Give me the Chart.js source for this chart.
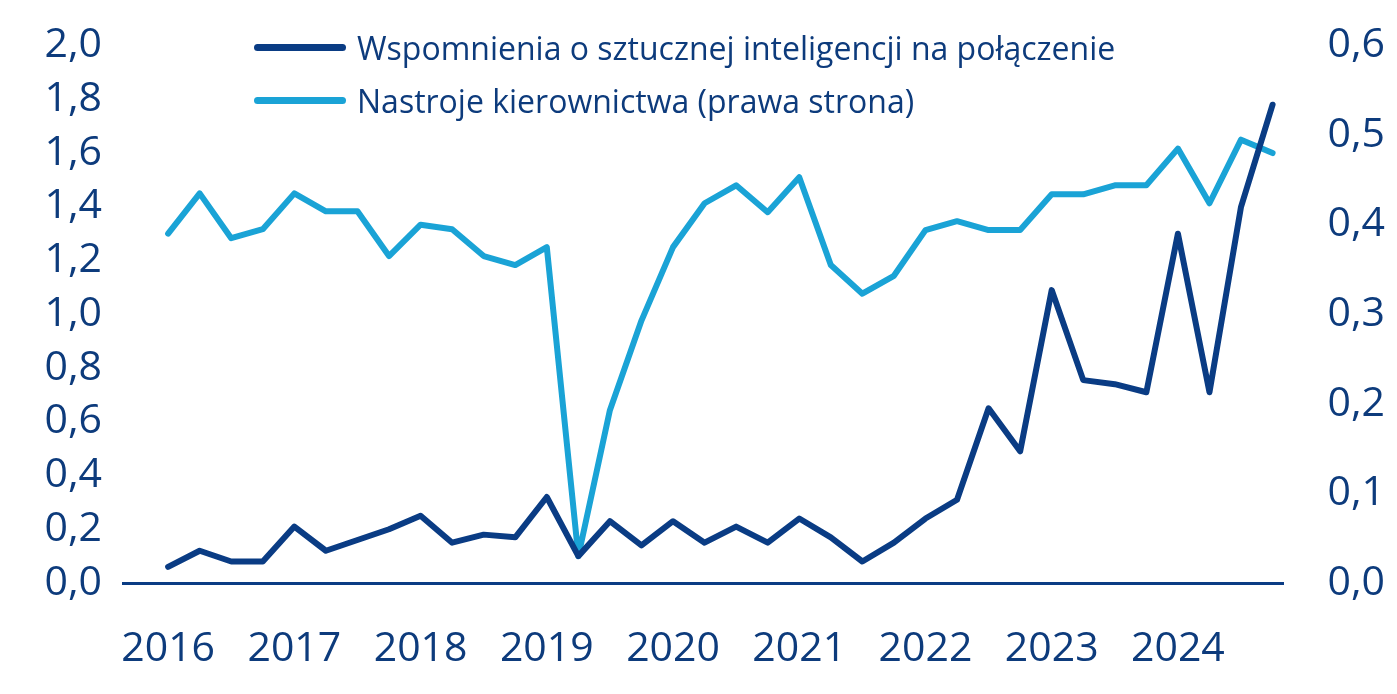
<!DOCTYPE html>
<html>
<head>
<meta charset="utf-8">
<script src="https://cdn.jsdelivr.net/npm/chart.js@4.4.1/dist/chart.umd.min.js"></script>
<style>
  html, body { margin: 0; padding: 0; background: #ffffff; }
  #wrap { position: relative; width: 1397px; height: 694px; }
  #legend { position: absolute; left: 254px; top: 21px; font-family: "Open Sans", sans-serif; font-size: 32px; color: #0D3B7C; }
  .row { display: flex; align-items: center; height: 53px; }
  .sw { width: 92px; height: 7px; border-radius: 3.5px; margin-right: 11px; }
</style>
</head>
<body>
<div id="wrap">
  <canvas id="c" width="1397" height="694"></canvas>
  <div id="legend"></div>
</div>
<script>
const quarters = [
  "2016 Q1","2016 Q2","2016 Q3","2016 Q4","2017 Q1","2017 Q2","2017 Q3","2017 Q4",
  "2018 Q1","2018 Q2","2018 Q3","2018 Q4","2019 Q1","2019 Q2","2019 Q3","2019 Q4",
  "2020 Q1","2020 Q2","2020 Q3","2020 Q4","2021 Q1","2021 Q2","2021 Q3","2021 Q4",
  "2022 Q1","2022 Q2","2022 Q3","2022 Q4","2023 Q1","2023 Q2","2023 Q3","2023 Q4",
  "2024 Q1","2024 Q2","2024 Q3","2024 Q4"
];
const yearLabels = ["2016","2017","2018","2019","2020","2021","2022","2023","2024"];
const aiMentions = [
  0.06, 0.12, 0.08, 0.08, 0.21, 0.12, 0.16, 0.20,
  0.25, 0.15, 0.18, 0.17, 0.32, 0.10, 0.23, 0.14,
  0.23, 0.15, 0.21, 0.15, 0.24, 0.17, 0.08, 0.15,
  0.24, 0.31, 0.65, 0.49, 1.09, 0.755, 0.74, 0.71,
  1.30, 0.71, 1.40, 1.78
];
const sentiment = [
  0.39, 0.435, 0.385, 0.395, 0.435, 0.415, 0.415, 0.365,
  0.40, 0.395, 0.365, 0.355, 0.375, 0.03, 0.193, 0.293,
  0.375, 0.424, 0.444, 0.414, 0.453, 0.355, 0.323, 0.343,
  0.394, 0.404, 0.394, 0.394, 0.434, 0.434, 0.444, 0.444,
  0.485, 0.424, 0.495, 0.48
];
const seriesNames = ["Wspomnienia o sztucznej inteligencji na połączenie", "Nastroje kierownictwa (prawa strona)"];

const DARK = "#0A3C84";
const LIGHT = "#1AA3D6";
const TEXT = "#0D3B7C";
const FONT = "'Open Sans', sans-serif";

const toPts = arr => arr.map((v, i) => ({ x: i, y: v }));
const fmt = (v, d) => v.toFixed(d).replace('.', ',');

const chart = new Chart(document.getElementById('c'), {
  type: 'line',
  data: {
    labels: quarters,
    datasets: [
      { label: seriesNames[0], data: toPts(aiMentions), yAxisID: 'y', borderColor: DARK, backgroundColor: DARK, borderWidth: 6, pointRadius: 0, tension: 0, borderCapStyle: 'round', borderJoinStyle: 'round' },
      { label: seriesNames[1], data: toPts(sentiment), yAxisID: 'y1', borderColor: LIGHT, backgroundColor: LIGHT, borderWidth: 6, pointRadius: 0, tension: 0, borderCapStyle: 'round', borderJoinStyle: 'round' }
    ]
  },
  options: {
    responsive: false,
    animation: false,
    layout: { padding: { top: 0, left: 0, right: 12, bottom: 0 } },
    plugins: { legend: { display: false }, tooltip: { enabled: false } },
    scales: {
      x: {
        type: 'linear', min: -1.43, max: 35.33,
        grid: { display: false, drawTicks: false },
        border: { display: true, color: DARK, width: 3 },
        afterBuildTicks: s => { s.ticks = yearLabels.map((_, k) => ({ value: k * 4 })); },
        ticks: { color: TEXT, font: { family: FONT, size: 41 }, padding: 42, maxRotation: 0, autoSkip: false,
                 callback: v => yearLabels[Math.round(v / 4)] },
        afterFit: s => { s.height = 111; }
      },
      y: {
        position: 'left', min: 0, max: 2,
        grid: { display: false, drawTicks: false },
        border: { display: false },
        ticks: { stepSize: 0.2, color: TEXT, font: { family: FONT, size: 41 }, padding: 21, callback: v => fmt(v, 1) },
        afterFit: s => { s.width = 123; }
      },
      y1: {
        position: 'right', min: 0, max: 0.6,
        grid: { display: false, drawTicks: false },
        border: { display: false },
        ticks: { stepSize: 0.1, color: TEXT, font: { family: FONT, size: 41 }, padding: 0, crossAlign: 'far', callback: v => fmt(v, 1) },
        afterFit: s => { s.width = 102; }
      }
    }
  }
});

const lg = document.getElementById('legend');
chart.data.datasets.forEach(ds => {
  const r = document.createElement('div'); r.className = 'row';
  const sw = document.createElement('span'); sw.className = 'sw'; sw.style.background = ds.borderColor;
  const t = document.createElement('span'); t.textContent = ds.label;
  r.appendChild(sw); r.appendChild(t); lg.appendChild(r);
});
</script>
</body>
</html>
